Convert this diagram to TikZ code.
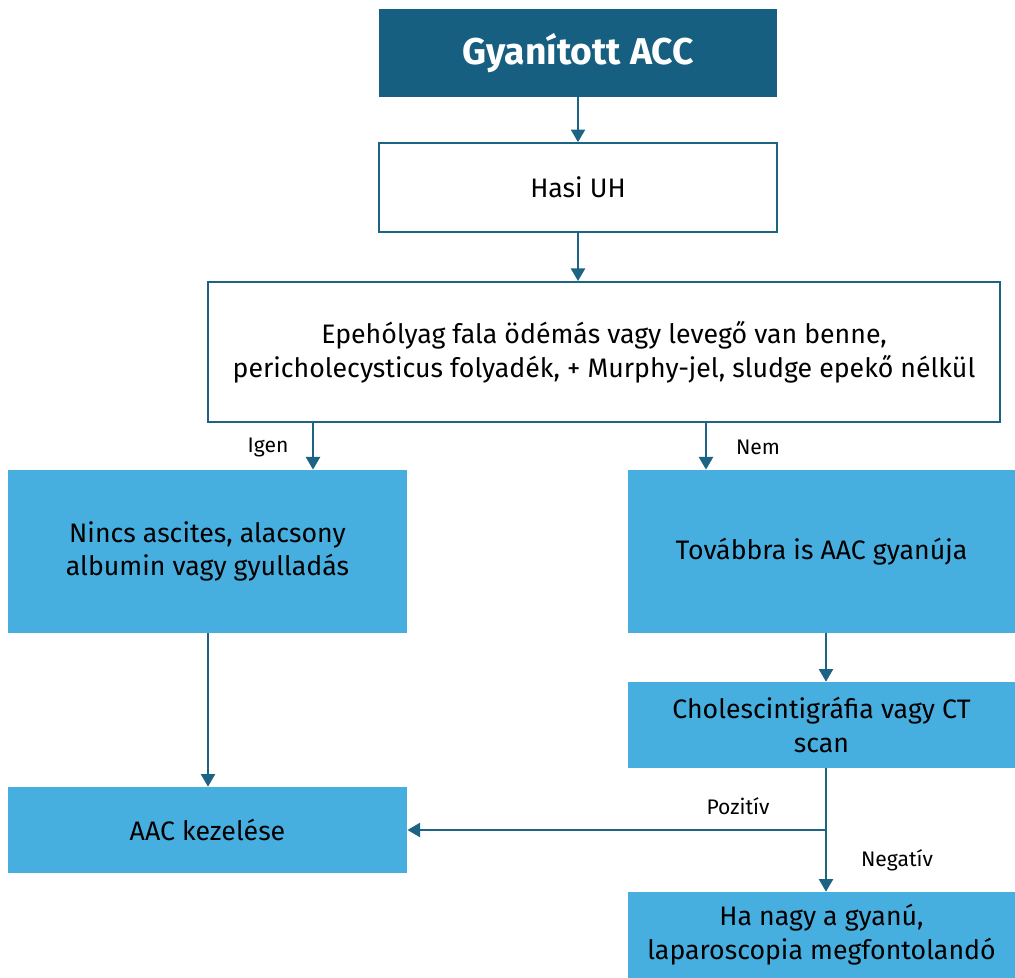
\documentclass[tikz,border=0pt]{standalone}
\usepackage{fontspec}
\setmainfont{Fira Sans}
\usepackage{tikz}
\usetikzlibrary{arrows.meta}

\definecolor{darkteal}{HTML}{175F80}
\definecolor{lightblue}{HTML}{47AFE0}
\definecolor{edgeblue}{HTML}{1D6384}

\begin{document}
\begin{tikzpicture}[x=0.025cm,y=-0.025cm,
    every node/.style={inner sep=0pt,align=center,font=\fontsize{19}{24}\selectfont},
    headbox/.style={fill=darkteal,text=white,font=\fontsize{26.5}{30}\selectfont\bfseries},
    whitebox/.style={draw=edgeblue,line width=1.3pt,fill=white},
    bluebox/.style={fill=lightblue,text=black},
    lbl/.style={font=\fontsize{15}{17}\selectfont},
    arr/.style={draw=edgeblue,line width=1.6pt,-{Triangle[length=9pt,width=10pt]}}]
                \useasboundingbox (0,0) rectangle (1015,978);
                % boxes
                \node [headbox,minimum width=9.95cm,minimum height=2.2cm] (top) at (578,53) {Gyanított ACC};
                \node [whitebox,minimum width=9.95cm,minimum height=2.22cm] (hasi) at (578,187.5) {Hasi UH};
                \node [whitebox,minimum width=19.8cm,minimum height=3.5cm] (epe) at (604,352) {Epehólyag fala ödémás vagy levegő van benne,\\pericholecysticus folyadék, + Murphy-jel, sludge epekő nélkül};
                \node [bluebox,minimum width=9.98cm,minimum height=4.08cm] (nincs) at (207.5,551.5) {Nincs ascites, alacsony\\albumin vagy gyulladás};
                \node [bluebox,minimum width=9.68cm,minimum height=4.08cm] (tovabb) at (821.5,551.5) {Továbbra is AAC gyanúja};
                \node [bluebox,minimum width=9.68cm,minimum height=2.15cm] (chol) at (821.5,725) {Cholescintigráfia vagy CT\\scan};
                \node [bluebox,minimum width=9.98cm,minimum height=2.15cm] (kezel) at (207.5,830) {AAC kezelése};
                \node [bluebox,minimum width=9.68cm,minimum height=2.15cm] (lapar) at (821.5,935) {Ha nagy a gyanú,\\laparoscopia megfontolandó};
                % connectors
                \coordinate (mcol) at (578,0);
                \coordinate (igen) at (313,0);
                \coordinate (nem) at (706,0);
                \coordinate (lcol) at (208,0);
                \coordinate (rcol) at (826,0);
                \coordinate (split) at (826,830);
                \draw [arr] (top) -- (hasi);
                \draw [arr] (hasi.south -| mcol) -- (epe.north -| mcol);
                \draw [arr] (epe.south -| igen) -- (nincs.north -| igen);
                \draw (268,447) node [lbl] {Igen};
                \draw [arr] (epe.south -| nem) -- (tovabb.north -| nem);
                \draw (758,447) node [lbl] {Nem};
                \draw [arr] (tovabb.south -| rcol) -- (chol.north -| rcol);
                \draw [arr] (nincs.south -| lcol) -- (kezel.north -| lcol);
                \draw [arr] (chol.south -| rcol) -- (lapar.north -| rcol);
                \draw [arr] (split) -- (kezel.east);
                \draw (738,806) node [lbl] {Pozitív};
                \draw (897,860) node [lbl] {Negatív};
\end{tikzpicture}
\end{document}
